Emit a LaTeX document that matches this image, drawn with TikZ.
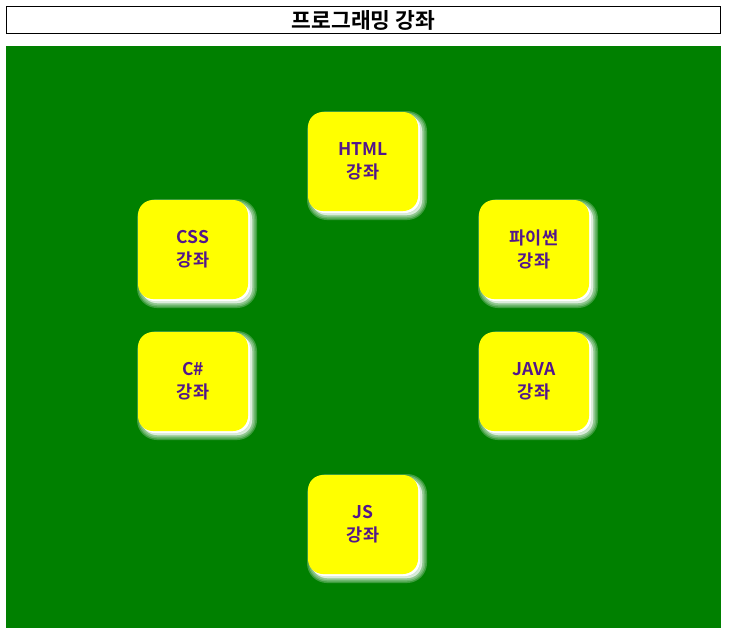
\documentclass[tikz,border=0pt]{standalone}
\usepackage{fontspec}
\setmainfont{Noto Sans CJK KR}[BoldFont={Noto Sans CJK KR Bold}]
\definecolor{boardgreen}{RGB}{0,128,0}
\definecolor{cardyellow}{RGB}{255,255,0}
\definecolor{inkpurple}{RGB}{82,22,140}

\begin{document}
\begin{tikzpicture}[x=1pt,y=-1pt,
 glow/.style={fill=white,draw=white,line width=#1,opacity=.24,transform canvas={shift={(4pt,-4pt)}}},
 course/.style={fill=cardyellow,rounded corners=15pt,minimum width=110pt,minimum height=99pt,
  inner sep=0pt,align=center,text=inkpurple,font=\bfseries\fontsize{17.5}{23}\selectfont,
  preaction={glow=10pt},preaction={glow=7pt},preaction={glow=4pt},preaction={glow=1pt},
  preaction={fill=white,transform canvas={shift={(2pt,-2pt)}}}},
 heading/.style={draw=black,line width=1pt,minimum width=714pt,minimum height=27pt,
  inner sep=0pt,font=\bfseries\fontsize{21.5}{24}\selectfont}]
\useasboundingbox[fill=white](0,0)rectangle(729,633);
\node[heading](title)at(363.5,20){프로그래밍 강좌};
\fill[boardgreen](6,46)rectangle(721,628);
\node[course](html)at(363,161.5){HTML\\강좌};
\node[course](css)at(193,249.5){CSS\\강좌};
\node[course](python)at(534,249.5){파이썬\\강좌};
\node[course](csharp)at(193,381.5){C\#\\강좌};
\node[course](java)at(534,381.5){JAVA\\강좌};
\node[course](js)at(363,524.5){JS\\강좌};
\end{tikzpicture}
\end{document}
